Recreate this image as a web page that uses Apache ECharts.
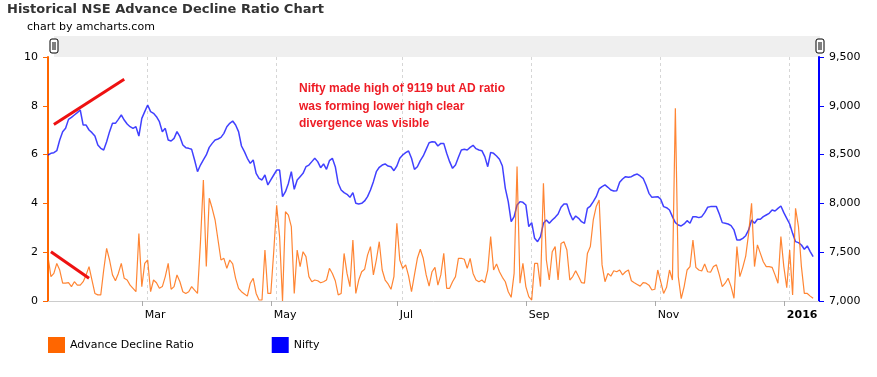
<!DOCTYPE html>
<html>
<head>
<meta charset="utf-8">
<script src="https://cdn.jsdelivr.net/npm/echarts@6/dist/echarts.min.js"></script>
<style>
html,body{margin:0;padding:0;background:#fff;}
#chart{width:877px;height:377px;}
</style>
</head>
<body>
<div id="chart"></div>
<script>
// ---- Data ----
// Trading-day categories: weekdays from 2015-01-15 to 2016-01-15 (+2 empty slots at the end)
const firstDay = [2015, 0, 15];
const lastDay = [2016, 0, 19];

const adRatio = [
  1.82,1.00,1.13,1.54,1.27,0.73,0.73,0.75,0.59,0.79,
  0.65,0.65,0.79,1.07,1.41,0.86,0.31,0.25,0.25,1.27,
  2.16,1.68,1.07,0.83,1.13,1.54,0.93,0.86,0.65,0.52,
  0.38,2.77,0.59,1.54,1.68,0.38,0.86,0.75,0.52,0.59,
  1.00,1.54,0.48,0.59,1.07,0.79,0.38,0.31,0.38,0.59,
  0.45,0.31,2.40,4.96,1.41,4.21,3.80,3.32,2.50,1.68,
  1.75,1.34,1.68,1.52,0.93,0.52,0.38,0.29,0.20,0.73,
  0.93,0.31,0.04,0.04,2.09,0.31,0.31,2.02,3.92,2.64,
  0.00,3.66,3.52,3.05,0.31,2.09,1.41,2.02,1.82,1.00,
  0.79,0.86,0.83,0.75,0.79,0.86,1.34,1.13,0.83,0.25,
  0.31,1.95,1.13,0.59,2.50,0.31,0.86,1.20,1.30,1.88,
  2.23,1.07,1.68,2.43,1.27,0.86,0.70,0.48,1.00,3.18,
  1.68,1.34,1.48,1.03,0.38,1.07,1.75,2.12,1.75,1.07,
  0.61,1.20,1.38,0.65,1.07,1.95,0.52,0.52,0.79,1.00,
  1.75,1.75,1.71,1.34,1.75,1.13,0.86,0.79,0.86,0.75,
  1.27,2.64,1.27,1.52,1.20,0.97,0.79,0.38,0.15,1.13,
  5.51,0.73,1.54,0.59,0.18,0.04,1.54,1.54,0.59,4.82,
  1.68,0.86,2.02,2.23,0.86,2.36,2.43,2.09,0.86,1.00,
  1.24,1.00,0.75,0.73,1.95,2.23,3.32,3.87,4.14,1.48,
  0.79,1.13,1.02,1.24,1.20,1.27,1.07,1.20,1.27,0.83,
  0.75,0.68,0.61,0.75,0.73,0.65,0.45,0.48,1.27,0.79,
  0.31,0.56,1.27,0.86,7.90,1.00,0.10,0.59,1.27,1.41,
  2.50,1.38,1.27,1.23,1.52,1.20,1.18,1.41,1.48,1.07,
  0.59,0.73,0.93,0.59,0.11,2.23,1.00,1.38,1.84,2.77,
  4.00,1.41,2.30,1.95,1.61,1.41,1.41,1.38,1.07,0.73,
  2.64,1.41,0.55,2.09,0.25,3.80,3.05,1.41,0.31,0.31,
  0.20,0.11
];

const nifty = [
  8496,8513,8520,8540,8650,8735,8769,8861,8882,8906,
  8930,8957,8803,8803,8752,8725,8690,8598,8564,8547,
  8632,8735,8820,8820,8861,8906,8854,8813,8786,8769,
  8786,8690,8871,8940,9008,8940,8923,8889,8837,8735,
  8769,8650,8639,8666,8735,8684,8598,8571,8564,8554,
  8445,8325,8393,8445,8496,8574,8615,8650,8660,8677,
  8718,8786,8820,8844,8803,8735,8588,8530,8462,8410,
  8445,8308,8257,8240,8291,8189,8240,8291,8342,8342,
  8069,8120,8205,8325,8144,8240,8274,8308,8376,8393,
  8428,8462,8428,8366,8404,8349,8438,8462,8376,8206,
  8137,8110,8093,8062,8110,8001,7994,8001,8025,8069,
  8137,8223,8325,8370,8393,8404,8383,8376,8335,8383,
  8462,8496,8520,8537,8462,8349,8376,8438,8486,8554,
  8622,8632,8629,8588,8615,8615,8513,8428,8359,8393,
  8472,8547,8554,8547,8574,8595,8561,8547,8540,8479,
  8376,8523,8513,8486,8452,8383,8154,8018,7813,7864,
  7984,8018,8011,7984,7762,7803,7642,7608,7659,7796,
  7830,7796,7830,7857,7891,7960,7994,7994,7898,7830,
  7871,7847,7813,7796,7950,7973,8018,8069,8148,8172,
  8189,8165,8137,8127,8130,8216,8250,8274,8267,8274,
  8291,8301,8281,8257,8189,8103,8062,8066,8069,8042,
  7967,7956,7932,7864,7803,7779,7769,7789,7823,7796,
  7864,7864,7854,7864,7905,7960,7967,7967,7967,7891,
  7803,7796,7789,7772,7728,7625,7625,7642,7669,7728,
  7830,7796,7837,7837,7864,7881,7898,7932,7922,7949,
  7973,7905,7847,7789,7693,7608,7598,7574,7530,7564,
  7506,7454
];

const tickMonths = ['2015-03','2015-05','2015-07','2015-09','2015-11','2016-01'];
const tickLabels = ['Mar','May','Jul','Sep','Nov','2016'];

const leftTicks = [0, 10, 2];        // min, max, interval
const rightTicks = [7000, 9500, 500];

// Annotation lines: [startIndex, startValue, endIndex, endValue] on the AD axis
const annoLine1 = [2, 7.23, 26, 9.09];
const annoLine2 = [1, 2.02, 14, 0.93];
const annoText = ['Nifty made high of 9119 but AD ratio', 'was forming lower high clear', 'divergence was visible'];

// ---- Build categories ----
const dates = [];
{
  let t = Date.UTC(firstDay[0], firstDay[1], firstDay[2]);
  const end = Date.UTC(lastDay[0], lastDay[1], lastDay[2]);
  while (t <= end) {
    const d = new Date(t);
    const wd = d.getUTCDay();
    if (wd !== 0 && wd !== 6) dates.push(d.toISOString().slice(0, 10));
    t += 86400000;
  }
}
const labelIdx = {};
tickMonths.forEach((m, k) => {
  const i = dates.findIndex(s => s.slice(0, 7) === m);
  labelIdx[i] = tickLabels[k];
});
const gridIdx = new Set(Object.keys(labelIdx).map(k => Number(k) + 2));

const FONT = 'DejaVu Sans';

function handle(x, y) {
  return {
    type: 'group', x: x, y: y, children: [
      { type: 'rect', shape: { x: 0, y: 0, width: 8, height: 14, r: 2 }, style: { fill: '#fff', stroke: '#000', lineWidth: 1 } },
      { type: 'line', shape: { x1: 3, y1: 3, x2: 3, y2: 11 }, style: { stroke: '#000', lineWidth: 1 } },
      { type: 'line', shape: { x1: 5, y1: 3, x2: 5, y2: 11 }, style: { stroke: '#000', lineWidth: 1 } }
    ]
  };
}

const chart = echarts.init(document.getElementById('chart'), null, { renderer: 'canvas' });
chart.setOption({
  animation: false,
  backgroundColor: '#fff',
  title: [
    { text: 'Historical NSE Advance Decline Ratio Chart', left: 7, top: 3, padding: 0,
      textStyle: { fontFamily: FONT, fontSize: 13, fontWeight: 'bold', color: '#333' } },
    { text: 'chart by amcharts.com', left: 27, top: 22, padding: 0,
      textStyle: { fontFamily: FONT, fontSize: 11, fontWeight: 'normal', color: '#000' } }
  ],
  legend: {
    left: 48, top: 337, padding: 0, itemWidth: 17, itemHeight: 16, itemGap: 78, icon: 'rect',
    textStyle: { fontFamily: FONT, fontSize: 11, color: '#000' },
    data: ['Advance Decline Ratio', 'Nifty']
  },
  grid: { left: 48, right: 58, top: 57, bottom: 76 },
  xAxis: {
    type: 'category', data: dates, boundaryGap: false,
    axisLine: { lineStyle: { color: '#ccc', width: 1 } },
    axisTick: { interval: (i) => labelIdx[i] !== undefined, length: 5, lineStyle: { color: '#aaa' } },
    axisLabel: {
      interval: (i) => labelIdx[i] !== undefined,
      formatter: (v, i) => { const s = labelIdx[i]; return s === '2016' ? '{b|2016}' : (s || ''); },
      align: 'left', padding: [0, 0, 0, 3], margin: 9,
      fontFamily: FONT, fontSize: 11, color: '#000',
      rich: { b: { fontFamily: FONT, fontSize: 11, fontWeight: 'bold', color: '#000' } }
    },
    splitLine: { show: true, interval: (i) => gridIdx.has(i), lineStyle: { color: '#d6d6d6', type: [3, 3], width: 1 } }
  },
  yAxis: [
    { type: 'value', min: leftTicks[0], max: leftTicks[1], interval: leftTicks[2], position: 'left',
      axisLine: { show: true, lineStyle: { color: '#FF6600', width: 2 } },
      axisTick: { show: true, length: 5, lineStyle: { color: '#FF6600' } },
      axisLabel: { margin: 10, fontFamily: FONT, fontSize: 11, color: '#000' },
      splitLine: { show: false } },
    { type: 'value', min: rightTicks[0], max: rightTicks[1], interval: rightTicks[2], position: 'right',
      axisLine: { show: true, lineStyle: { color: '#0000FF', width: 2 } },
      axisTick: { show: true, length: 5, lineStyle: { color: '#0000FF' } },
      axisLabel: { margin: 10, fontFamily: FONT, fontSize: 11, color: '#000',
        formatter: (v) => v.toLocaleString('en-US') },
      splitLine: { show: false } }
  ],
  series: [
    { name: 'Advance Decline Ratio', type: 'line', yAxisIndex: 0, data: adRatio,
      showSymbol: false, symbol: 'none', color: '#FF6600',
      lineStyle: { color: '#FF6600', width: 1.2, opacity: 0.8 },
      markLine: {
        silent: true, symbol: 'none', label: { show: false },
        lineStyle: { color: '#EE1111', width: 3, type: 'solid' },
        data: [
          [{ coord: [dates[annoLine1[0]], annoLine1[1]] }, { coord: [dates[annoLine1[2]], annoLine1[3]] }],
          [{ coord: [dates[annoLine2[0]], annoLine2[1]] }, { coord: [dates[annoLine2[2]], annoLine2[3]] }]
        ]
      },
      z: 2 },
    { name: 'Nifty', type: 'line', yAxisIndex: 1, data: nifty,
      showSymbol: false, symbol: 'none', color: '#0000FF',
      lineStyle: { color: '#0000FF', width: 1.5, opacity: 0.75 }, z: 1 }
  ],
  graphic: [
    { type: 'rect', shape: { x: 54, y: 36, width: 766, height: 21 }, style: { fill: '#efefef' }, z: -1 },
    handle(50, 39),
    handle(816, 39),
    { type: 'text', left: 299, top: 80,
      style: { text: annoText.join('\n'), font: 'bold 12px "Liberation Sans"', lineHeight: 17.5, fill: '#EE1C25' } }
  ]
});
</script>
</body>
</html>
